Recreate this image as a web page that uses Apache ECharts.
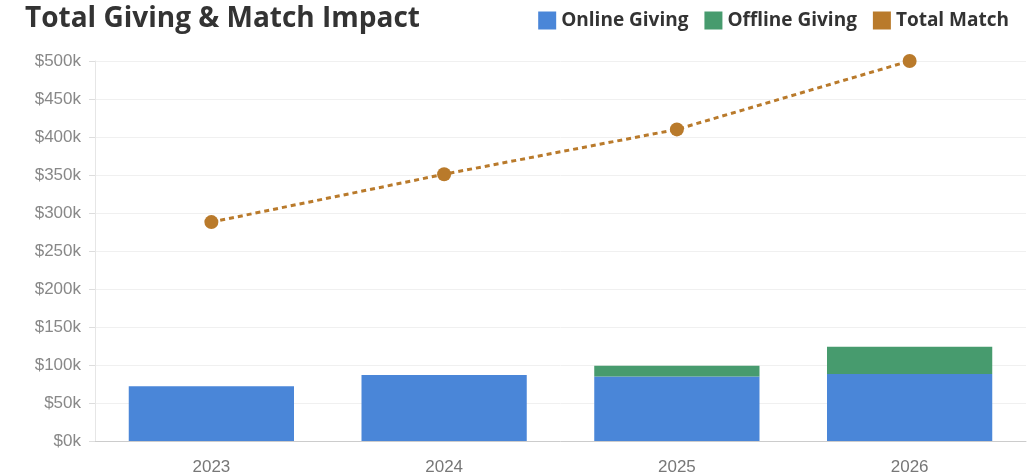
<!DOCTYPE html>
<html>
<head>
<meta charset="utf-8">
<script src="https://cdn.jsdelivr.net/npm/echarts@6/dist/echarts.min.js"></script>
<style>
  html, body { margin: 0; padding: 0; background: #fff; }
  #chart { width: 1034px; height: 476px; }
</style>
</head>
<body>
<div id="chart"></div>
<script>
// data, in $k
const years = ['2023', '2024', '2025', '2026'];
const onlineGiving = [72, 87, 85, 88];
const offlineGiving = [0, 0, 14, 36];
const totalMatch = [288, 351, 410, 500];

const chart = echarts.init(document.getElementById('chart'));

const option = {
  animation: false,
  textStyle: { fontFamily: 'Open Sans' },
  title: {
    text: 'Total Giving & Match Impact',
    left: 20,
    top: 0,
    textStyle: { fontSize: 28, fontWeight: 'bold', color: '#333', fontFamily: 'Open Sans' }
  },
  legend: {
    right: 20,
    top: 6,
    itemWidth: 18,
    itemHeight: 18,
    itemGap: 16,
    icon: 'rect',
    textStyle: { fontSize: 19, fontWeight: 'bold', color: '#333', fontFamily: 'Open Sans' },
    data: ['Online Giving', 'Offline Giving', 'Total Match']
  },
  grid: { left: 95, right: 8, top: 61, bottom: 35 },
  xAxis: {
    type: 'category',
    data: years,
    axisLine: { lineStyle: { color: '#ccc' } },
    axisTick: { show: false },
    axisLabel: { color: '#777', fontSize: 17, margin: 18, fontFamily: 'Liberation Sans' }
  },
  yAxis: {
    type: 'value',
    min: 0,
    max: 500,
    interval: 50,
    axisLine: { show: true, lineStyle: { color: '#e6e6e6' } },
    axisTick: { show: true, length: 6, lineStyle: { color: '#ddd' } },
    splitLine: { lineStyle: { color: '#f0f0f0' } },
    axisLabel: {
      color: '#888',
      fontSize: 17,
      margin: 14,
      fontFamily: 'Liberation Sans',
      formatter: v => '$' + v + 'k'
    }
  },
  series: [
    {
      name: 'Online Giving',
      type: 'bar',
      stack: 'giving',
      barWidth: '71%',
      data: onlineGiving,
      itemStyle: { color: '#4a86d8' }
    },
    {
      name: 'Offline Giving',
      type: 'bar',
      stack: 'giving',
      data: offlineGiving,
      itemStyle: { color: '#479b6e' }
    },
    {
      name: 'Total Match',
      type: 'line',
      data: totalMatch,
      symbol: 'circle',
      symbolSize: 14,
      itemStyle: { color: '#b97a2b' },
      lineStyle: { color: '#b97a2b', width: 3, type: [5, 4] }
    }
  ]
};

chart.setOption(option);
</script>
</body>
</html>
